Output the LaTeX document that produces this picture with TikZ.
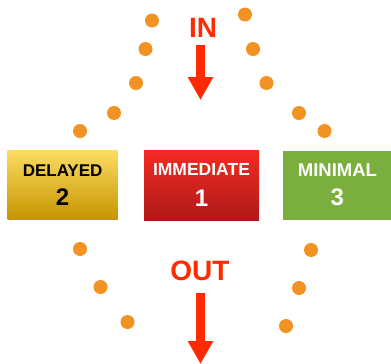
\documentclass[tikz,border=0pt]{standalone}
\usepackage{fontspec}
\setmainfont{Liberation Sans}
\usetikzlibrary{arrows.meta, positioning}
\definecolor{SigRed}   {HTML}{FF2A00}
\definecolor{DotOrange}{HTML}{F29222}
\definecolor{GoldTop}  {HTML}{FCDC62}
\definecolor{GoldBot}  {HTML}{C69500}
\definecolor{RedTop}   {HTML}{F42B23}
\definecolor{RedBot}   {HTML}{AE1A18}
\definecolor{Leaf}     {HTML}{7AAF3E}

\begin{document}
\begin{tikzpicture}[x=1pt, y=-1pt,
  every node/.style={font=\bfseries},
  tbox/.style={minimum height=69pt, inner sep=0pt, align=center},
  ybox/.style={tbox, minimum width=110pt, top color=GoldTop, bottom color=GoldBot, text=black},
  rbox/.style={tbox, minimum width=115pt, minimum height=70pt, top color=RedTop, bottom color=RedBot, text=white},
  gbox/.style={tbox, minimum width=108pt, fill=Leaf, text=white},
  sig/.style={text=SigRed, font=\bfseries\fontsize{28}{30}\selectfont},
  arr/.style={-{Triangle[width=24pt, length=23pt]}, line width=9pt, color=SigRed},
  dot/.style={fill=DotOrange},
]
  \useasboundingbox (0,0) rectangle (391,364);

  % triage boxes
  \node[rbox] (imm) at (201.5,185) {%
    \fontsize{17.5}{19}\selectfont IMMEDIATE\\[13pt]
    \fontsize{24}{26}\selectfont 1};
  \node[ybox, left=26pt of imm] (del) {%
    \fontsize{17}{19}\selectfont DELAYED\\[11pt]
    \fontsize{24}{26}\selectfont 2};
  \node[gbox, right=24pt of imm] (min) {%
    \fontsize{18.5}{20}\selectfont MINIMAL\\[11pt]
    \fontsize{24}{26}\selectfont 3};

  % in / out
  \node[sig] (in)  at (203,28)  {IN};
  \node[sig] (out) at (200,271) {OUT};
  \coordinate (inA)  at (200.5,45);
  \coordinate (inB)  at (200.5,100);
  \coordinate (outA) at (200.5,293);
  \coordinate (outB) at (200.5,364);
  \draw[arr] (inA) -- (inB);
  \draw[arr] (outA) -- (outB);

  % dotted arcs
  \foreach \px/\py in {152/20.5, 145.5/49, 136/83, 114/113, 80/131,
                       245/14.5, 253/49, 266.5/83, 299/113, 324.5/131,
                       80/249, 100.5/287, 127.5/322,
                       311/250, 299/288, 286/326}
    \fill[dot] (\px,\py) circle (7);
\end{tikzpicture}
\end{document}
